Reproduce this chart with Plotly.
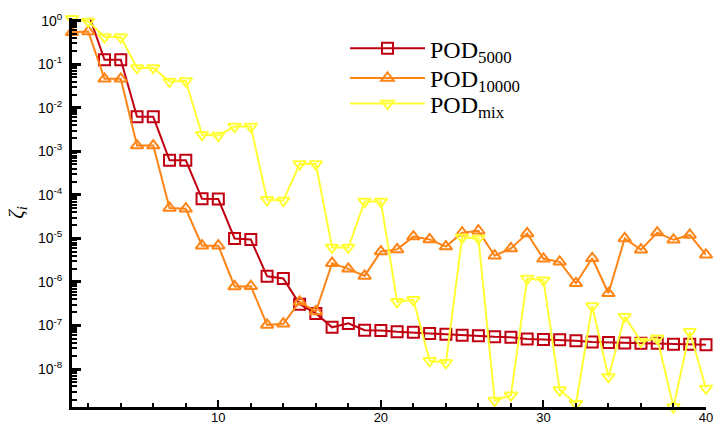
import plotly.graph_objects as go

modes = list(range(1, 41))

pod5000 = [1.5, 1.5, 0.126, 0.126, 6.2e-3, 6.2e-3, 6.2e-4, 6.2e-4, 8.1e-5, 8.0e-5,
           1.0e-5, 9.5e-6, 1.35e-6, 1.2e-6, 3.1e-7, 1.9e-7, 9.1e-8, 1.12e-7, 7.8e-8, 7.7e-8,
           7.2e-8, 7.0e-8, 6.6e-8, 6.3e-8, 6.0e-8, 5.8e-8, 5.5e-8, 5.4e-8, 4.9e-8, 4.8e-8,
           4.7e-8, 4.5e-8, 4.2e-8, 4.1e-8, 4.0e-8, 3.9e-8, 3.9e-8, 3.7e-8, 3.7e-8, 3.6e-8]

pod10000 = [0.54, 0.56, 0.046, 0.046, 1.35e-3, 1.35e-3, 5.0e-5, 4.8e-5, 6.8e-6, 6.8e-6,
            7.9e-7, 8.0e-7, 1.03e-7, 1.1e-7, 3.5e-7, 2.1e-7, 2.7e-6, 2.0e-6, 1.38e-6, 5.0e-6,
            5.6e-6, 1.1e-5, 9.5e-6, 6.5e-6, 1.35e-5, 1.5e-5, 4.0e-6, 5.9e-6, 1.3e-5, 3.4e-6,
            2.9e-6, 9.3e-7, 3.5e-6, 5.5e-7, 1.0e-5, 5.5e-6, 1.36e-5, 9.3e-6, 1.2e-5, 4.2e-6]

podmix = [1.1, 0.96, 0.42, 0.42, 0.082, 0.082, 0.040, 0.041, 2.4e-3, 2.3e-3,
          3.7e-3, 3.7e-3, 7.7e-5, 7.4e-5, 5.1e-4, 5.1e-4, 6.2e-6, 6.2e-6, 7.0e-5, 7.0e-5,
          3.5e-7, 3.9e-7, 1.55e-8, 1.4e-8, 1.05e-5, 1.0e-5, 1.9e-9, 2.5e-9, 1.2e-6, 1.1e-6,
          3.3e-9, 1.6e-9, 2.8e-7, 6.6e-9, 1.6e-7, 4.3e-8, 5.1e-8, 1.35e-9, 7.2e-8, 3.6e-9]

series_names = ["POD<sub>5000</sub>", "POD<sub>10000</sub>", "POD<sub>mix</sub>"]
series_colors = ["#C00010", "#FF8416", "#FFFF33"]
series_symbols = ["square-open", "triangle-up-open", "triangle-down-open"]
legend_ids = ["legend", "legend2", "legend3"]
legend_rows_y = [0.921, 0.845, 0.779]

y_tickvals = [1, 1e-1, 1e-2, 1e-3, 1e-4, 1e-5, 1e-6, 1e-7, 1e-8]
y_ticktext = ["10<sup>0</sup>", "10<sup>-1</sup>", "10<sup>-2</sup>", "10<sup>-3</sup>",
              "10<sup>-4</sup>", "10<sup>-5</sup>", "10<sup>-6</sup>", "10<sup>-7</sup>",
              "10<sup>-8</sup>"]
y_minor_ticks = [k * 10.0 ** e for e in range(-9, 0) for k in range(2, 10)]
x_tickvals = [10, 20, 30, 40]
x_ticktext = ["10", "20", "30", "40"]
x_minor_ticks = [v for v in range(2, 40, 2) if v % 10 != 0]

X_RANGE = [1, 40]
Y_RANGE = [-8.87, 0.06]

fig = go.Figure()
for name, vals, col, sym, lg in zip(series_names, [pod5000, pod10000, podmix],
                                    series_colors, series_symbols, legend_ids):
    fig.add_trace(go.Scatter(
        x=modes, y=vals, name=name, mode="lines+markers", legend=lg,
        line=dict(color=col, width=2),
        marker=dict(symbol=sym, size=11, color=col, line=dict(color=col, width=2)),
        cliponaxis=False,
    ))
# empty trace so the overlay axes (minor ticks) get drawn
fig.add_trace(go.Scatter(x=[], y=[], xaxis="x2", yaxis="y2", showlegend=False,
                         hoverinfo="skip"))

legend_style = dict(x=0.4306, xanchor="left", yanchor="middle",
                    font=dict(family="Liberation Serif", size=24, color="black"),
                    itemwidth=75, bgcolor="rgba(0,0,0,0)")

fig.update_layout(
    width=714, height=425,
    margin=dict(l=72, r=8, t=18, b=18, autoexpand=False),
    plot_bgcolor="rgba(0,0,0,0)", paper_bgcolor="white",
    showlegend=True,
    legend=dict(y=legend_rows_y[0], **legend_style),
    legend2=dict(y=legend_rows_y[1], **legend_style),
    legend3=dict(y=legend_rows_y[2], **legend_style),
    font=dict(family="Liberation Sans", color="black"),
    xaxis=dict(
        range=X_RANGE, showline=True, linewidth=3, linecolor="black",
        showgrid=False, zeroline=False, automargin=False,
        tickmode="array", tickvals=x_tickvals, ticktext=x_ticktext,
        ticks="inside", ticklen=7, tickwidth=2, tickcolor="black",
        layer="above traces", ticklabelstandoff=-4,
        tickfont=dict(size=13, family="Liberation Sans"),
    ),
    yaxis=dict(
        type="log", range=Y_RANGE, showline=True, linewidth=3, linecolor="black",
        showgrid=False, zeroline=False, automargin=False,
        tickmode="array", tickvals=y_tickvals, ticktext=y_ticktext,
        ticks="inside", ticklen=9, tickwidth=2.5, tickcolor="black",
        layer="above traces", ticklabelstandoff=4,
        tickfont=dict(size=14, family="Liberation Sans"),
        title=dict(text="<i>ζ<sub>i</sub></i>",
                   font=dict(family="Liberation Serif", size=21), standoff=9),
    ),
    xaxis2=dict(
        overlaying="x", anchor="y", side="bottom", range=X_RANGE,
        showline=False, showgrid=False, zeroline=False, showticklabels=False,
        tickmode="array", tickvals=x_minor_ticks, layer="above traces",
        ticks="inside", ticklen=4, tickwidth=1.5, tickcolor="black",
    ),
    yaxis2=dict(
        overlaying="y", anchor="x", side="left", type="log", range=Y_RANGE,
        showline=False, showgrid=False, zeroline=False, showticklabels=False,
        tickmode="array", tickvals=y_minor_ticks, layer="above traces",
        ticks="inside", ticklen=5, tickwidth=1.5, tickcolor="black",
    ),
)

fig.write_html("out.html", config={"displayModeBar": False},
               post_script="document.body.style.margin='0';")
